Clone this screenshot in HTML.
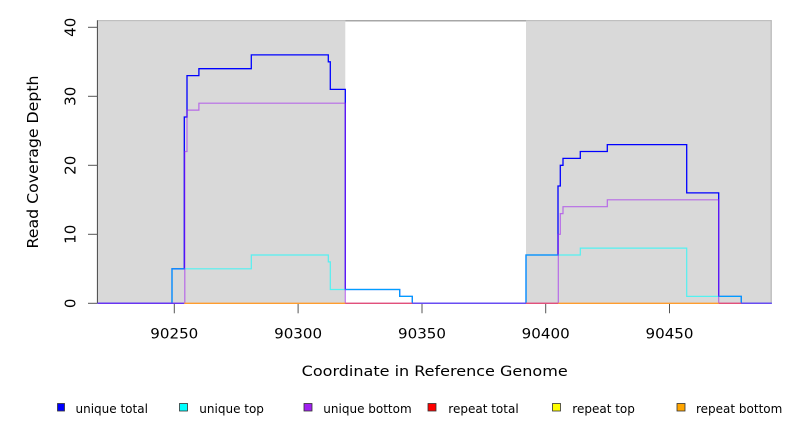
<!DOCTYPE html>
<html>
<head>
<meta charset="utf-8">
<style>
html,body{margin:0;padding:0;background:#fff;}
svg{display:block;}
text{font-family:"DejaVu Sans","Liberation Sans",sans-serif;fill:#000;}
</style>
</head>
<body>
<svg width="792" height="432" viewBox="0 0 792 432" xmlns="http://www.w3.org/2000/svg">
  <!-- shaded regions -->
  <rect x="97.7" y="20.3" width="247.6" height="283" fill="#d9d9d9"/>
  <rect x="526" y="20.3" width="245.7" height="283" fill="#d9d9d9"/>
  <line x1="97.7" y1="20.6" x2="345.3" y2="20.6" stroke="#b8b8b8" stroke-width="1"/>
  <line x1="526" y1="20.6" x2="771.7" y2="20.6" stroke="#b8b8b8" stroke-width="1"/>
  <line x1="345.3" y1="20.8" x2="526" y2="20.8" stroke="#8a8a8a" stroke-width="1.2"/>
  <line x1="771.2" y1="20.3" x2="771.2" y2="303.3" stroke="#b0b0b0" stroke-width="1"/>

  <!-- y axis -->
  <line x1="97.4" y1="20.3" x2="97.4" y2="303.3" stroke="#444" stroke-width="1"/>
  <g stroke="#555" stroke-width="1">
    <line x1="88" y1="303.3" x2="97.4" y2="303.3"/>
    <line x1="88" y1="234.3" x2="97.4" y2="234.3"/>
    <line x1="88" y1="165.3" x2="97.4" y2="165.3"/>
    <line x1="88" y1="96.3" x2="97.4" y2="96.3"/>
    <line x1="88" y1="27.3" x2="97.4" y2="27.3"/>
  </g>
  <g font-size="15" text-anchor="middle">
    <text transform="translate(75.5,303.3) rotate(-90)">0</text>
    <text transform="translate(75.5,234.3) rotate(-90)">10</text>
    <text transform="translate(75.5,165.3) rotate(-90)">20</text>
    <text transform="translate(75.5,96.3) rotate(-90)">30</text>
    <text transform="translate(75.5,27.3) rotate(-90)">40</text>
  </g>
  <text transform="translate(38,162) rotate(-90)" font-size="15.5" text-anchor="middle" textLength="173" lengthAdjust="spacingAndGlyphs">Read Coverage Depth</text>

  <!-- x axis ticks -->
  <g stroke="#555" stroke-width="1">
    <line x1="174.3" y1="303.3" x2="174.3" y2="313.3"/>
    <line x1="298.1" y1="303.3" x2="298.1" y2="313.3"/>
    <line x1="422" y1="303.3" x2="422" y2="313.3"/>
    <line x1="545.7" y1="303.3" x2="545.7" y2="313.3"/>
    <line x1="669.5" y1="303.3" x2="669.5" y2="313.3"/>
  </g>
  <g font-size="14" text-anchor="middle">
    <text x="174.3" y="338.3" textLength="48" lengthAdjust="spacingAndGlyphs">90250</text>
    <text x="298.1" y="338.3" textLength="48" lengthAdjust="spacingAndGlyphs">90300</text>
    <text x="422" y="338.3" textLength="48" lengthAdjust="spacingAndGlyphs">90350</text>
    <text x="545.7" y="338.3" textLength="48" lengthAdjust="spacingAndGlyphs">90400</text>
    <text x="669.5" y="338.3" textLength="48" lengthAdjust="spacingAndGlyphs">90450</text>
  </g>
  <text x="434.7" y="376" font-size="14.5" text-anchor="middle" textLength="266" lengthAdjust="spacingAndGlyphs">Coordinate in Reference Genome</text>

  <!-- unique total (blue) -->
  <path fill="none" stroke="#0000ff" stroke-width="1.3"
    d="M97.7,303.3 H172 V268.8 H184.3 V117 H187 V75.6 H198.9 V68.7 H251.3 V54.9 H328.3 V61.8 H330.3 V89.4 H345.3 V289.5 H399.7 V296.4 H412.3 V303.3 H526 V255 H558 V186 H560.3 V165.3 H563 V158.4 H580.3 V151.5 H607.3 V144.6 H686.7 V192.9 H718.7 V296.4 H741.3 V303.3 H771.7"/>
  <!-- unique top (cyan) -->
  <path fill="none" stroke="#00ffff" stroke-opacity="0.62" stroke-width="1.2"
    d="M97.7,303.3 H172 V268.8 H251.3 V255 H328.3 V261.9 H330.3 V289.5 H399.7 V296.4 H412.3 V303.3 H526 V255 H580.3 V248.1 H686.7 V296.4 H741.3 V303.3 H771.7"/>
  <!-- unique bottom (purple) -->
  <path fill="none" stroke="#a020f0" stroke-opacity="0.6" stroke-width="1.2"
    d="M97.7,303.3 H184.8 V151.5 H187 V110.1 H198.9 V103.2 H345.3 V303.3 H558.3 V234.3 H560.3 V213.6 H563 V206.7 H607.3 V199.8 H718.7 V303.3 H771.7"/>

  <!-- zero-line overlays (repeat series) -->
  <g stroke-width="1.3" fill="none">
    <line x1="97.7" y1="303.3" x2="184.3" y2="303.3" stroke="#6a34f2"/>
    <line x1="184.3" y1="303.3" x2="345.3" y2="303.3" stroke="#ff9d2e"/>
    <line x1="345.3" y1="303.3" x2="412.3" y2="303.3" stroke="#e2507a"/>
    <line x1="412.3" y1="303.3" x2="526" y2="303.3" stroke="#6a4cf2"/>
    <line x1="526" y1="303.3" x2="558.3" y2="303.3" stroke="#e2507a"/>
    <line x1="558.3" y1="303.3" x2="718.7" y2="303.3" stroke="#ff9d2e"/>
    <line x1="718.7" y1="303.3" x2="741.3" y2="303.3" stroke="#e2507a"/>
    <line x1="741.3" y1="303.3" x2="771.7" y2="303.3" stroke="#6a4cf2"/>
  </g>

  <!-- legend -->
  <g stroke="#333" stroke-width="0.8">
    <rect x="57.5" y="403.5" width="7" height="7.5" fill="#0000ff"/>
    <rect x="179.5" y="403.5" width="8" height="7.5" fill="#00ffff"/>
    <rect x="304" y="403.5" width="8" height="7.5" fill="#a020f0"/>
    <rect x="428" y="403.5" width="8" height="7.5" fill="#ff0000"/>
    <rect x="552.5" y="403.5" width="8" height="7.5" fill="#ffff00"/>
    <rect x="677" y="403.5" width="8" height="7.5" fill="#ffa500"/>
  </g>
  <g font-size="12">
    <text x="75.5" y="413">unique total</text>
    <text x="199.3" y="413">unique top</text>
    <text x="323.3" y="413">unique bottom</text>
    <text x="448.3" y="413">repeat total</text>
    <text x="572.3" y="413">repeat top</text>
    <text x="696" y="413">repeat bottom</text>
  </g>
</svg>
</body>
</html>
